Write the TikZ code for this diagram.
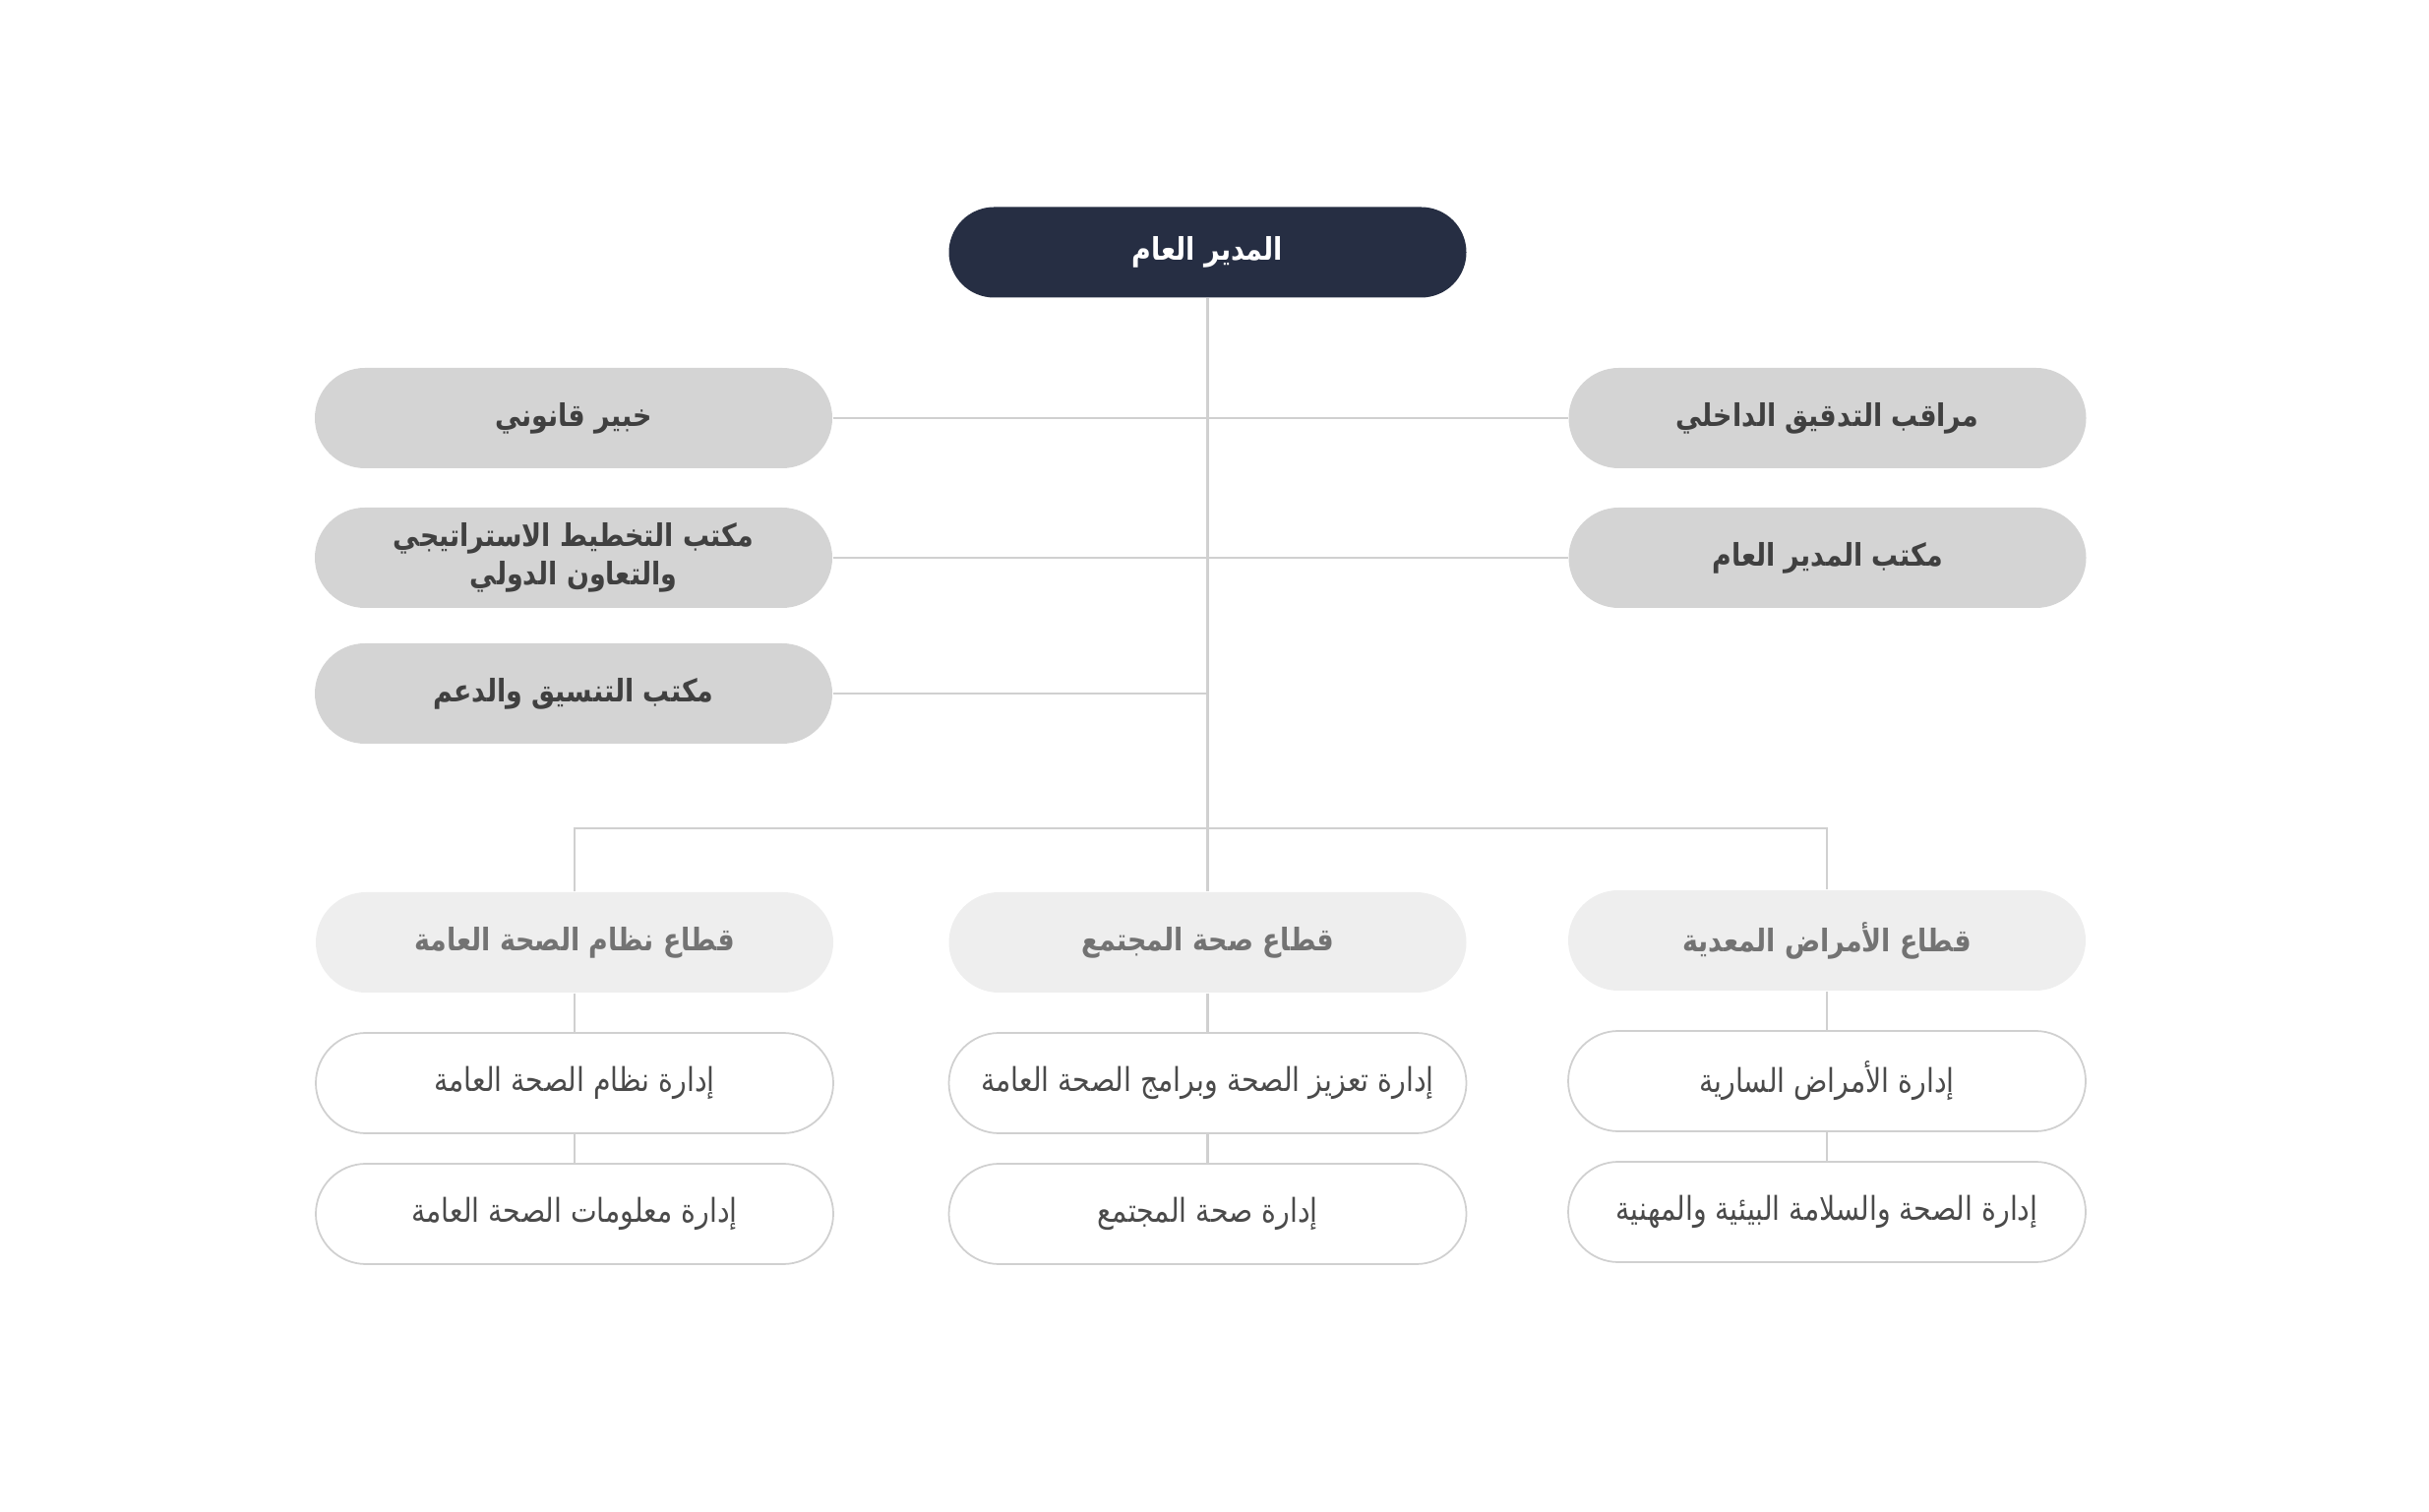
\documentclass[tikz,border=0pt]{standalone}
\usepackage{fontspec}
\newfontfamily\arabicfont[Script=Arabic,FakeStretch=0.85]{DejaVu Sans}
\TeXXeTstate=1
\usetikzlibrary{positioning}
\definecolor{navy}{HTML}{262E43}
\definecolor{ink}{HTML}{404040}
\definecolor{muted}{HTML}{737373}
\definecolor{deptink}{HTML}{4A4A4A}
\definecolor{line}{HTML}{D0D0D0}
\definecolor{staff}{HTML}{D4D4D4}
\definecolor{sector}{HTML}{EEEEEE}
\tikzset{
  pill/.style={
    rectangle,
    rounded corners=5.1mm,
    minimum width=52.6mm,
    minimum height=10.2mm,
    inner sep=0pt,
    align=center,
    font=\arabicfont\fontsize{9.5}{11}\selectfont
  },
  head_block/.style={
    pill,
    fill=navy,
    minimum height=9.2mm,
    rounded corners=4.6mm,
    text=white,
    font=\arabicfont\bfseries\fontsize{9}{11}\selectfont
  },
  staff_block/.style={
    pill,
    fill=staff,
    text=ink,
    font=\arabicfont\bfseries\fontsize{9}{11}\selectfont
  },
  sector_block/.style={
    pill,
    fill=sector,
    text=muted,
    font=\arabicfont\bfseries\fontsize{9}{11}\selectfont
  },
  dept_block/.style={
    pill,
    fill=white,
    draw=line,
    line width=0.5pt,
    text=deptink
  },
  link/.style={
    draw=line,
    line width=0.6pt
  }
}

\begin{document}
\begin{tikzpicture}[x=1mm,y=1mm]
  \useasboundingbox (0,0) rectangle (246.9,153.6);

  % ============================================================
  % Director general
  % ============================================================
  \node[head_block] (gd) at (122.75, 127.95) {\beginR المدير العام\endR};

  % ============================================================
  % Staff offices (left and right of the trunk)
  % ============================================================
  \node[staff_block] (legal) at (58.3, 111.1) {\beginR خبير قانوني\endR};
  \node[staff_block] (plan) at (58.3, 96.9)
       {\beginR مكتب التخطيط الاستراتيجي\endR\\\beginR والتعاون الدولي\endR};
  \node[staff_block] (support) at (58.3, 83.1) {\beginR مكتب التنسيق والدعم\endR};

  \node[staff_block] (audit) at (185.75, 111.1) {\beginR مراقب التدقيق الداخلي\endR};
  \node[staff_block] (gdoffice) at (185.75, 96.9) {\beginR مكتب المدير العام\endR};

  % ============================================================
  % Sectors
  % ============================================================
  \node[sector_block] (sec_sys) at (58.4, 57.8) {\beginR قطاع نظام الصحة العامة\endR};
  \node[sector_block] (sec_comm) at (122.75, 57.8) {\beginR قطاع صحة المجتمع\endR};
  \node[sector_block] (sec_inf) at (185.7, 58.0) {\beginR قطاع الأمراض المعدية\endR};

  % Departments under each sector
  \node[dept_block] (d_sys1) at (58.4, 43.5) {\beginR إدارة نظام الصحة العامة\endR};
  \node[dept_block] (d_sys2) at (58.4, 30.2) {\beginR إدارة معلومات الصحة العامة\endR};

  \node[dept_block] (d_comm1) at (122.75, 43.5) {\beginR إدارة تعزيز الصحة وبرامج الصحة العامة\endR};
  \node[dept_block] (d_comm2) at (122.75, 30.2) {\beginR إدارة صحة المجتمع\endR};

  \node[dept_block] (d_inf1) at (185.7, 43.7) {\beginR إدارة الأمراض السارية\endR};
  \node[dept_block] (d_inf2) at (185.7, 30.4) {\beginR إدارة الصحة والسلامة البيئية والمهنية\endR};

  % ============================================================
  % Connectors
  % ============================================================
  \coordinate (bus) at (122.75, 69.4);
  \draw[link] (gd.south) -- (sec_comm.north);
  \draw[link] (legal.east) -- (audit.west);
  \draw[link] (plan.east) -- (gdoffice.west);
  \draw[link] (support.east) -- (support.east -| gd.south);
  \draw[link] (sec_sys.north) |- (bus) -| (sec_inf.north);

  \draw[link] (sec_sys.south) -- (d_sys1.north);
  \draw[link] (d_sys1.south) -- (d_sys2.north);
  \draw[link] (sec_comm.south) -- (d_comm1.north);
  \draw[link] (d_comm1.south) -- (d_comm2.north);
  \draw[link] (sec_inf.south) -- (d_inf1.north);
  \draw[link] (d_inf1.south) -- (d_inf2.north);

\end{tikzpicture}
\end{document}
